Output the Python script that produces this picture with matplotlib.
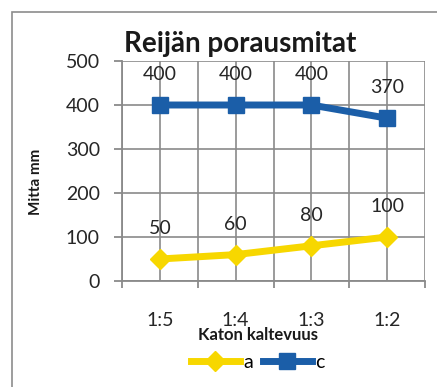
import matplotlib
matplotlib.use("Agg")
import matplotlib.pyplot as plt
from matplotlib.patches import Rectangle
from matplotlib.lines import Line2D

plt.rcParams['font.family'] = ['Lato', 'DejaVu Sans']

categories = ["1:5", "1:4", "1:3", "1:2"]
series_a = [50, 60, 80, 100]
series_c = [400, 400, 400, 370]
y_ticks = [0, 100, 200, 300, 400, 500]

W, H = 437, 387
fig = plt.figure(figsize=(W / 100, H / 100), dpi=100)
fig.patch.set_facecolor("white")

# outer chart frame
fig.add_artist(Rectangle((12 / W, -0.05), 1.2, 1 - 12 / H + 0.05,
                         transform=fig.transFigure, fill=False,
                         edgecolor="#8c8c8c", linewidth=1.2))

ax = fig.add_axes([122 / W, 1 - 281 / H, (425 - 122) / W, (281 - 61) / H])
x = list(range(len(categories)))

grid_col = "#8a8a8a"
blue = "#1b5ea8"
yellow = "#f7d700"
txt = "#262626"

ax.plot(x, series_a, color=yellow, lw=5, marker="D", ms=10,
        markeredgecolor=yellow, label="a", zorder=3, solid_capstyle="round")
ax.plot(x, series_c, color=blue, lw=5, marker="s", ms=12,
        markeredgecolor=blue, label="c", zorder=3)

for xi, v in zip(x, series_a):
    ax.annotate(str(v), (xi, v), xytext=(0, 22), textcoords="offset points",
                ha="center", va="center", fontsize=14, color=txt)
for xi, v in zip(x, series_c):
    ax.annotate(str(v), (xi, v), xytext=(0, 22), textcoords="offset points",
                ha="center", va="center", fontsize=14, color=txt)

ax.set_xlim(-0.5, 3.5)
ax.set_ylim(0, 500)
ax.set_yticks(y_ticks)
ax.set_yticklabels([str(t) for t in y_ticks], fontsize=14, color=txt)

bounds = [-0.5, 0.5, 1.5, 2.5, 3.5]
ax.set_xticks(bounds)
ax.set_xticklabels([""] * len(bounds))
ax.set_xticks(x, minor=True)
ax.set_xticklabels(categories, minor=True, fontsize=14, color=txt)
ax.tick_params(axis="x", which="major", length=5, direction="out",
               color=grid_col, width=1.3)
ax.tick_params(axis="x", which="minor", length=0, pad=22)
ax.tick_params(axis="y", length=6, direction="out", color=grid_col,
               width=1.3, pad=10)

ax.grid(True, which="both", axis="x", color=grid_col, lw=1.2)
ax.grid(True, which="major", axis="y", color=grid_col, lw=1.2)
ax.set_axisbelow(True)
for side in ["top", "right"]:
    ax.spines[side].set_visible(False)
for side in ["left", "bottom"]:
    ax.spines[side].set_color(grid_col)
    ax.spines[side].set_linewidth(1.3)

fig.text(240 / W, 1 - 44 / H, "Reijän porausmitat", ha="center", va="center",
         fontsize=20, fontweight="bold", color="#1a1a1a")
ax.set_ylabel("Mitta mm", fontsize=11, fontweight="bold", color="#1a1a1a",
              labelpad=10)
ax.yaxis.set_label_coords(-0.26, 0.45)
fig.text(258 / W, 1 - 335 / H, "Katon kaltevuus", ha="center", va="center",
         fontsize=12, fontweight="bold", color="#1a1a1a")

handles = [Line2D([], [], color=yellow, lw=5, marker="D", ms=10),
           Line2D([], [], color=blue, lw=5, marker="s", ms=12)]
fig.legend(handles, ["a", "c"], loc="center", bbox_to_anchor=(258 / W, 1 - 362 / H),
           ncol=2, frameon=False, fontsize=14, handlelength=2.5,
           handletextpad=0.2, columnspacing=0.5, borderpad=0)

fig.savefig("out.png", dpi=100, facecolor="white")
